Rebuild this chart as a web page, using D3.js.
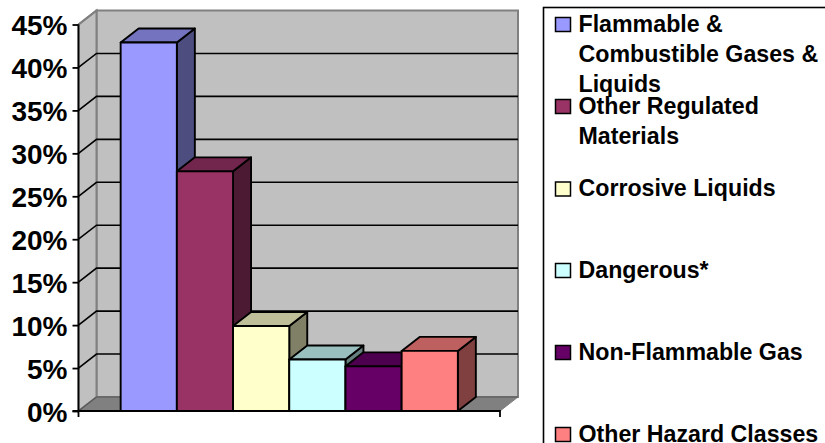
<!DOCTYPE html>
<html><head><meta charset="utf-8">
<style>html,body{margin:0;padding:0;background:#fff;overflow:hidden}svg{display:block}text{font-family:"Liberation Sans",Arial,sans-serif;font-weight:700;fill:#000}</style>
<script src="https://cdn.jsdelivr.net/npm/d3@7/dist/d3.min.js"></script>
</head><body><svg id="c" width="825" height="443"></svg>
<script>
const categories = ["Flammable & Combustible Gases & Liquids","Other Regulated Materials","Corrosive Liquids","Dangerous*","Non-Flammable Gas","Other Hazard Classes"];
const values = [42.9, 27.9, 9.9, 6.0, 5.2, 7.0];
const colors = ["#9999ff","#993366","#ffffcc","#ccffff","#660066","#ff8080"];
const sideColors = ["#4d4d80","#4d1a33","#808066","#668080","#330033","#804040"];
const topColors = ["#7373bf","#73264d","#bfbf99","#99bfbf","#4d004d","#bf6060"];
const ticks = [0,5,10,15,20,25,30,35,40,45];
const legendLines = [["Flammable &","Combustible Gases &","Liquids"],["Other Regulated","Materials"],["Corrosive Liquids"],["Dangerous*"],["Non-Flammable Gas"],["Other Hazard Classes"]];
const legendSwatchY = [24.5,106.5,189,270.5,352.5,434.5];
const legendBaseline = [32,114,196,278,360,441.5];
const dx = 18, dy = -14;
const svg = d3.select("#c");
const y = d3.scaleLinear().domain([0,45]).range([411,24.5]);
const x = d3.scaleBand().domain(categories).range([78.5,500]).paddingInner(0).paddingOuter(0.75);
const poly = pts => pts.map(p=>p.join(",")).join(" ");
const xL = 78.5, xR = 500;
// walls
svg.append("polygon").attr("points",poly([[xL+dx,y(45)+dy],[xR+dx,y(45)+dy],[xR+dx,y(0)+dy],[xL+dx,y(0)+dy]])).attr("fill","#c0c0c0").attr("stroke","#808080").attr("stroke-width",2);
svg.append("polygon").attr("points",poly([[xL,y(45)],[xL+dx,y(45)+dy],[xL+dx,y(0)+dy],[xL,y(0)]])).attr("fill","#c0c0c0").attr("stroke","#808080").attr("stroke-width",2);
svg.append("polygon").attr("points",poly([[xL,y(0)],[xL+dx,y(0)+dy],[xR+dx,y(0)+dy],[xR,y(0)]])).attr("fill","#808080").attr("stroke","#808080").attr("stroke-width",1);
// gridlines
ticks.slice(1,-1).forEach(t=>{
  svg.append("path").attr("d",`M${xL},${y(t)}L${xL+dx},${y(t)+dy}L${xR+dx},${y(t)+dy}`).attr("fill","none").attr("stroke","#000").attr("stroke-width",1.6);
});
svg.append("path").attr("d",`M${xL},${y(0)}L${xL+dx},${y(0)+dy}L${xR+dx},${y(0)+dy}`).attr("fill","none").attr("stroke","#555").attr("stroke-width",1.2);
svg.append("path").attr("d",`M${xL},${y(45)}L${xL+dx},${y(45)+dy}`).attr("fill","none").attr("stroke","#808080").attr("stroke-width",2);
// bars
categories.forEach((c,i)=>{
  const x0=x(c),x1=x0+x.bandwidth(),yt=y(values[i]),yb=y(0);
  const g=svg.append("g").attr("stroke","#000").attr("stroke-width",1.9).attr("stroke-linejoin","round");
  g.append("polygon").attr("points",poly([[x1,yt],[x1+dx,yt+dy],[x1+dx,yb+dy],[x1,yb]])).attr("fill",sideColors[i]);
  g.append("polygon").attr("points",poly([[x0,yt],[x0+dx,yt+dy],[x1+dx,yt+dy],[x1,yt]])).attr("fill",topColors[i]);
  g.append("rect").attr("x",x0).attr("y",yt).attr("width",x1-x0).attr("height",yb-yt).attr("fill",colors[i]);
});
// axes
svg.append("path").attr("d",`M${xL},${y(45)}V${y(0)+6}`).attr("fill","none").attr("stroke","#000").attr("stroke-width",1.8);
svg.append("path").attr("d",`M${xL-6},${y(0)}H${xR}V${y(0)+6}`).attr("fill","none").attr("stroke","#000").attr("stroke-width",1.8);
const yAxis = d3.axisLeft(y).tickValues(ticks).tickSize(6).tickFormat(d=>d+"%");
const ax = svg.append("g").attr("transform",`translate(${xL},0)`).call(yAxis);
ax.select(".domain").remove();
ax.selectAll("line").attr("stroke","#000").attr("stroke-width",1.8);
ax.selectAll("text").attr("x",-11).attr("font-size",28).attr("dy","0.36em");
// legend
svg.append("rect").attr("x",543.5).attr("y",7.5).attr("width",300).attr("height",450).attr("fill","#fff").attr("stroke","#000").attr("stroke-width",1.6);
categories.forEach((c,i)=>{
  const g=svg.append("g");
  g.append("rect").attr("x",555.5).attr("y",legendSwatchY[i]-7).attr("width",15).attr("height",14).attr("fill",colors[i]).attr("stroke","#000").attr("stroke-width",1.5);
  legendLines[i].forEach((ln,j)=>{
    g.append("text").attr("x",578.5).attr("y",legendBaseline[i]+j*30).attr("font-size",23.2).text(ln);
  });
});
</script></body></html>
